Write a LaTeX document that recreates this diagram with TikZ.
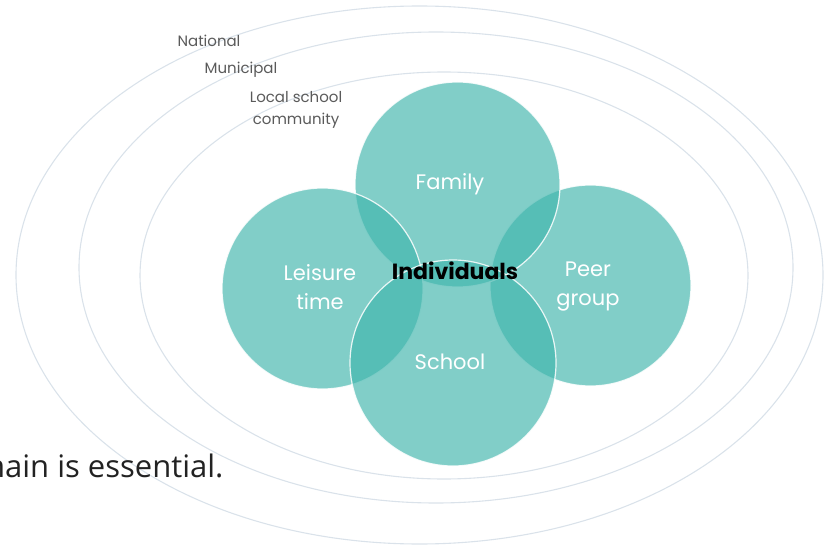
\documentclass[tikz,border=0pt]{standalone}
\usepackage{fontspec}
\setmainfont{Poppins}
\newfontfamily\notefont{Open Sans}
\usetikzlibrary{positioning}
\definecolor{ringgray}{RGB}{218,226,234}
\definecolor{teal}{RGB}{63,181,172}
\definecolor{labelgray}{RGB}{90,90,90}
\tikzstyle{ring} = [draw=ringgray, line width=1.1pt]
\tikzstyle{sphere} = [circle, fill=teal, fill opacity=0.66, draw=white, draw opacity=0.85, line width=1.2pt]
\tikzstyle{arena} = [text=white, align=center, font=\fontsize{21}{29}\selectfont]
\tikzstyle{level} = [text=labelgray, align=center, font=\fontsize{15}{22}\selectfont]

\begin{document}
\begin{tikzpicture}[x=1pt, y=-1pt]
    \useasboundingbox (0,0) rectangle (829,548);

    % context rings
    \draw[ring] (419.5,275) ellipse (403.5 and 269);
    \draw[ring] (436,267.5) ellipse (357 and 235.5);
    \draw[ring] (444,275.5) ellipse (304 and 203.5);

    \node[level] (national) at (209,41) {National};
    \node[level] (municipal) at (241,70) {Municipal};
    \node[level] (local) at (296,110) {Local school\\community};

    % arenas round the individual
    \node[sphere, minimum size=201pt] (peer) at (590.5,285.5) {};
    \node[sphere, minimum size=205pt] (family) at (457.5,184.5) {};
    \node[sphere, minimum size=201pt] (leisure) at (322.5,288.5) {};
    \node[sphere, minimum size=206pt] (school) at (453,363) {};

    \node[arena] (peer_txt) at (588,287) {Peer\\group};
    \node[arena] (family_txt) at (450,184) {Family};
    \node[arena] (leisure_txt) at (320,287) {Leisure\\time};
    \node[arena] (school_txt) at (450,362) {School};

    \node[font=\fontsize{22}{26}\selectfont\bfseries] (indiv) at (455,271) {Individuals};

    \node[anchor=base east, text={rgb,255:red,34;green,34;blue,34}, font=\notefont\fontsize{31}{37}\selectfont] (note) at (227,477) {main is essential.};
\end{tikzpicture}
\end{document}
